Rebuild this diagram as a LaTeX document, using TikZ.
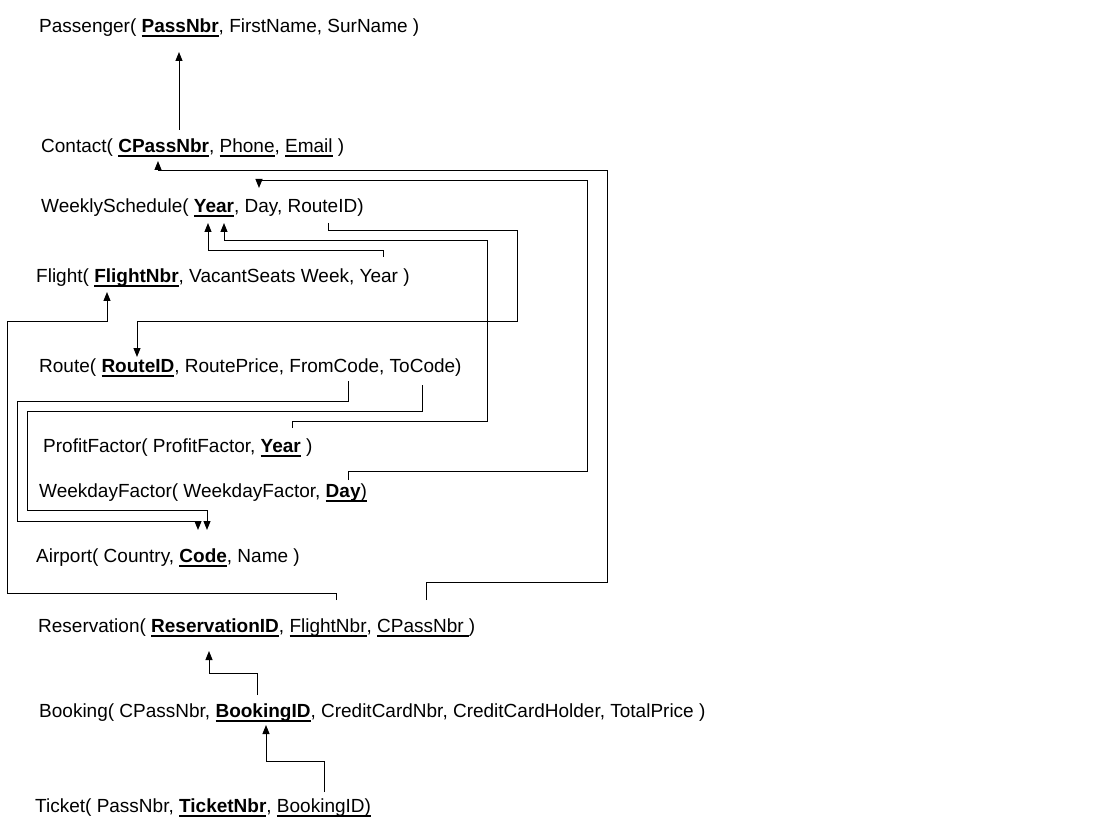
\documentclass[tikz,border=0pt]{standalone}
\usepackage{fontspec}
\setmainfont{Liberation Sans}
\usetikzlibrary{arrows.meta}
% key attributes: bold and underlined, foreign keys: underlined
\newcommand{\pk}[1]{{\setbox0\hbox{\textbf{#1}}\rlap{\rule[-3.8pt]{\wd0}{1.8pt}}\box0}}
\newcommand{\fk}[1]{{\setbox0\hbox{#1}\rlap{\rule[-3.6pt]{\wd0}{1.1pt}}\box0}}
\begin{document}
\begin{tikzpicture}[x=1pt, y=-1pt,
	rel/.style={anchor=west, inner sep=0pt, font=\fontsize{19}{23}\selectfont},
	ref/.style={-{Triangle[width=7pt,length=9pt]}, line width=1pt}]
	\useasboundingbox (0,0) rectangle (1109,821);
	% relations
	\node[rel] (passenger) at (39,28) {Passenger( \pk{PassNbr}, FirstName, SurName )};
	\node[rel] (contact) at (41,148) {Contact( \pk{CPassNbr}, \fk{Phone}, \fk{Email} )};
	\node[rel] (schedule) at (41,208) {WeeklySchedule( \pk{Year}, Day, RouteID)};
	\node[rel] (flight) at (36,278) {Flight( \pk{FlightNbr}, VacantSeats Week, Year )};
	\node[rel] (route) at (39,368) {Route( \pk{RouteID}, RoutePrice, FromCode, ToCode)};
	\node[rel] (profit) at (43,448) {ProfitFactor( ProfitFactor, \pk{Year} )};
	\node[rel] (weekday) at (39,493) {WeekdayFactor( WeekdayFactor, \pk{Day}\fk{)}};
	\node[rel] (airport) at (36,558) {Airport( Country, \pk{Code}, Name )};
	\node[rel] (reservation) at (38,628) {Reservation( \pk{ReservationID}, \fk{FlightNbr}, \fk{CPassNbr\ })};
	\node[rel] (booking) at (39,713) {Booking( CPassNbr, \pk{BookingID}, CreditCardNbr, CreditCardHolder, TotalPrice )};
	\node[rel] (ticket) at (35,808) {Ticket( PassNbr, \pk{TicketNbr}, \fk{BookingID)}};
	% attribute points
	\coordinate (pass-key) at (179,52);
	\coordinate (ct-up) at (179,130);
	\coordinate (ct-key) at (158,161);
	\coordinate (ws-year1) at (208,223);
	\coordinate (ws-year2) at (224,223);
	\coordinate (ws-day) at (259,188);
	\coordinate (ws-route) at (328,223);
	\coordinate (fl-key) at (107,292);
	\coordinate (fl-year) at (383,257);
	\coordinate (rt-key) at (137,357);
	\coordinate (rt-from) at (348,381);
	\coordinate (rt-to) at (422,385);
	\coordinate (pf-year) at (292,428);
	\coordinate (wd-day) at (348,480);
	\coordinate (ap-code1) at (198,530);
	\coordinate (ap-code2) at (207,530);
	\coordinate (res-key) at (209,651);
	\coordinate (res-flight) at (336,600);
	\coordinate (res-cpass) at (426,600);
	\coordinate (bk-key) at (266,725);
	\coordinate (bk-res) at (257,695);
	\coordinate (tk-bid) at (324,792);
	% references
	\draw[ref] (ct-up) -- (pass-key);
	\draw[ref] (res-cpass) |- (607,582) |- (158,171) -- (ct-key);
	\draw[ref] (wd-day) |- (587,471) |- (259,181) -- (ws-day);
	\draw[ref] (pf-year) |- (487,421) |- (224,241) -- (ws-year2);
	\draw[ref] (fl-year) |- (208,251) -- (ws-year1);
	\draw[ref] (ws-route) |- (517,231) |- (137,321) -- (rt-key);
	\draw[ref] (rt-from) |- (17,401) |- (198,521) -- (ap-code1);
	\draw[ref] (rt-to) |- (27,411) |- (207,510) -- (ap-code2);
	\draw[ref] (res-flight) |- (7,593) |- (107,321) -- (fl-key);
	\draw[ref] (bk-res) |- (209,673) -- (res-key);
	\draw[ref] (tk-bid) |- (266,761) -- (bk-key);
\end{tikzpicture}
\end{document}
